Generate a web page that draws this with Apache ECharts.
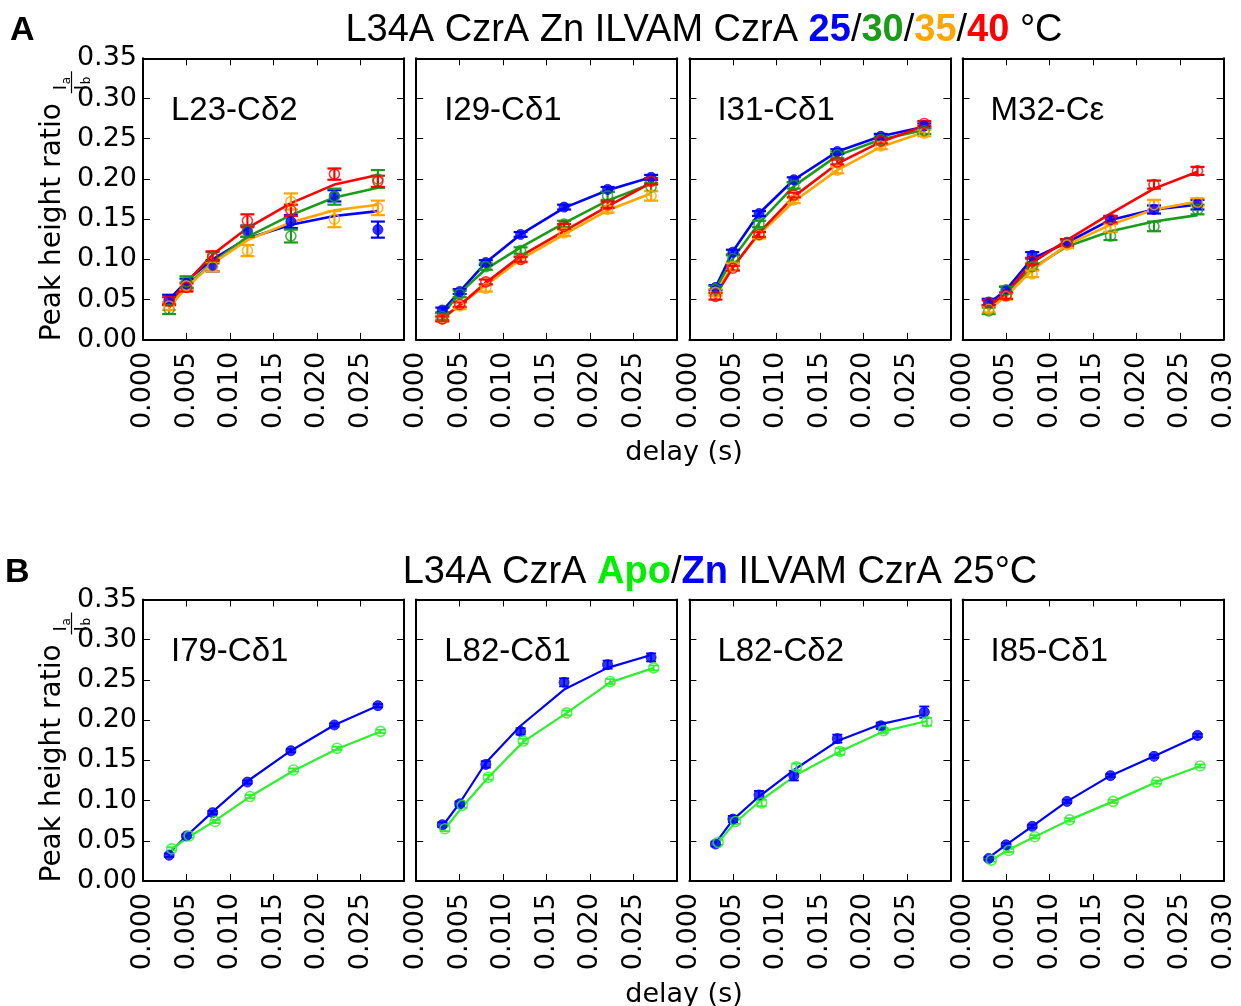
<!DOCTYPE html>
<html>
  <head>
    <meta charset="utf-8" />
    <title>CzrA peak height ratios</title>
    <script src="https://cdn.jsdelivr.net/npm/echarts@6/dist/echarts.min.js"></script>
    <style>
      body {
        margin: 0;
        padding: 0;
        background: #fff;
      }
      #chart {
        width: 1241px;
        height: 1006px;
      }
    </style>
  </head>
  <body>
    <div id="chart"></div>
    <script type="text/javascript">
      // delays (s)
      var delays = [0.003, 0.005, 0.008, 0.012, 0.017, 0.022, 0.027];
      var delaysApo = [0.0033, 0.0053, 0.0083, 0.0123, 0.0173, 0.0223, 0.0273];

      // row A: order 25 (blue), 30 (green), 35 (orange), 40 (red)
      var tempLabels = ['25', '30', '35', '40'];
      var l23Pts = [
        [0.050, 0.070, 0.092, 0.135, 0.147, 0.179, 0.137],
        [0.038, 0.072, 0.102, 0.135, 0.129, 0.178, 0.200],
        [0.042, 0.067, 0.091, 0.111, 0.172, 0.150, 0.164],
        [0.048, 0.065, 0.104, 0.148, 0.161, 0.206, 0.197]
      ];
      var l23Fit = [
        [0.050, 0.073, 0.100, 0.126, 0.143, 0.154, 0.160],
        [0.040, 0.067, 0.096, 0.128, 0.155, 0.177, 0.189],
        [0.042, 0.065, 0.095, 0.124, 0.146, 0.161, 0.168],
        [0.046, 0.071, 0.106, 0.139, 0.170, 0.193, 0.205]
      ];
      var l23Err = [
        [0.006, 0.006, 0.007, 0.007, 0.008, 0.007, 0.010],
        [0.006, 0.007, 0.007, 0.007, 0.008, 0.010, 0.011],
        [0.005, 0.005, 0.006, 0.007, 0.010, 0.010, 0.009],
        [0.005, 0.005, 0.006, 0.008, 0.007, 0.007, 0.007]
      ];
      var i29Pts = [
        [0.037, 0.060, 0.096, 0.131, 0.165, 0.187, 0.202],
        [0.029, 0.057, 0.091, 0.111, 0.144, 0.179, 0.190],
        [0.026, 0.042, 0.064, 0.100, 0.133, 0.162, 0.179],
        [0.026, 0.044, 0.072, 0.100, 0.141, 0.168, 0.197]
      ];
      var i29Fit = [
        [0.036, 0.060, 0.096, 0.131, 0.164, 0.186, 0.202],
        [0.031, 0.058, 0.088, 0.115, 0.145, 0.173, 0.194],
        [0.026, 0.043, 0.068, 0.100, 0.131, 0.161, 0.182],
        [0.027, 0.043, 0.071, 0.104, 0.135, 0.166, 0.195]
      ];
      var i29Err = [
        [0.003, 0.003, 0.003, 0.003, 0.003, 0.003, 0.003],
        [0.004, 0.004, 0.004, 0.004, 0.004, 0.005, 0.005],
        [0.003, 0.004, 0.004, 0.004, 0.004, 0.004, 0.006],
        [0.003, 0.003, 0.003, 0.003, 0.003, 0.004, 0.004]
      ];
      var i31Pts = [
        [0.065, 0.109, 0.157, 0.199, 0.234, 0.253, 0.266],
        [0.063, 0.101, 0.144, 0.192, 0.230, 0.249, 0.260],
        [0.059, 0.091, 0.130, 0.174, 0.211, 0.241, 0.257],
        [0.054, 0.089, 0.131, 0.180, 0.221, 0.247, 0.269]
      ];
      var i31Fit = [
        [0.065, 0.110, 0.157, 0.199, 0.234, 0.253, 0.265],
        [0.063, 0.101, 0.145, 0.191, 0.229, 0.249, 0.261],
        [0.058, 0.092, 0.131, 0.172, 0.211, 0.240, 0.258],
        [0.055, 0.090, 0.133, 0.178, 0.219, 0.246, 0.266]
      ];
      var i31Err = [
        [0.003, 0.003, 0.003, 0.003, 0.003, 0.003, 0.003],
        [0.004, 0.004, 0.004, 0.004, 0.004, 0.004, 0.004],
        [0.004, 0.004, 0.004, 0.004, 0.004, 0.004, 0.004],
        [0.004, 0.003, 0.003, 0.003, 0.003, 0.003, 0.003]
      ];
      var m32Pts = [
        [0.047, 0.062, 0.105, 0.121, 0.149, 0.162, 0.168],
        [0.036, 0.062, 0.091, 0.121, 0.129, 0.141, 0.162],
        [0.038, 0.054, 0.082, 0.118, 0.139, 0.168, 0.171],
        [0.046, 0.055, 0.098, 0.121, 0.150, 0.193, 0.210]
      ];
      var m32Fit = [
        [0.045, 0.062, 0.101, 0.121, 0.149, 0.162, 0.168],
        [0.037, 0.060, 0.089, 0.116, 0.135, 0.147, 0.155],
        [0.038, 0.054, 0.087, 0.118, 0.143, 0.162, 0.172],
        [0.042, 0.058, 0.096, 0.124, 0.157, 0.188, 0.209]
      ];
      var m32Err = [
        [0.004, 0.004, 0.004, 0.004, 0.005, 0.005, 0.006],
        [0.004, 0.004, 0.004, 0.004, 0.005, 0.006, 0.006],
        [0.004, 0.004, 0.004, 0.004, 0.005, 0.006, 0.005],
        [0.003, 0.004, 0.004, 0.004, 0.004, 0.005, 0.005]
      ];

      // row B: order Zn (blue), Apo (green)
      var i79Pts = [
        [0.032, 0.056, 0.085, 0.123, 0.162, 0.194, 0.218],
        [0.040, 0.056, 0.074, 0.105, 0.138, 0.165, 0.186]
      ];
      var i79Fit = [
        [0.035, 0.056, 0.086, 0.124, 0.162, 0.194, 0.218],
        [0.040, 0.055, 0.075, 0.105, 0.137, 0.164, 0.186]
      ];
      var i79Err = [
        [0.002, 0.002, 0.002, 0.002, 0.002, 0.002, 0.002],
        [0.002, 0.002, 0.002, 0.002, 0.002, 0.002, 0.002]
      ];
      var l82aPts = [
        [0.070, 0.096, 0.145, 0.186, 0.247, 0.269, 0.278],
        [0.065, 0.094, 0.129, 0.174, 0.209, 0.248, 0.265]
      ];
      var l82aFit = [
        [0.068, 0.097, 0.147, 0.193, 0.238, 0.265, 0.281],
        [0.065, 0.092, 0.129, 0.173, 0.209, 0.247, 0.265]
      ];
      var l82aErr = [
        [0.003, 0.003, 0.004, 0.004, 0.005, 0.005, 0.005],
        [0.003, 0.003, 0.003, 0.003, 0.003, 0.003, 0.003]
      ];
      var l82bPts = [
        [0.046, 0.077, 0.107, 0.131, 0.177, 0.193, 0.210],
        [0.048, 0.074, 0.097, 0.142, 0.161, 0.187, 0.198]
      ];
      var l82bFit = [
        [0.047, 0.076, 0.105, 0.138, 0.174, 0.195, 0.207],
        [0.048, 0.073, 0.101, 0.132, 0.161, 0.186, 0.199]
      ];
      var l82bErr = [
        [0.003, 0.004, 0.005, 0.006, 0.005, 0.004, 0.007],
        [0.003, 0.003, 0.004, 0.004, 0.004, 0.003, 0.005]
      ];
      var i85Pts = [
        [0.028, 0.045, 0.068, 0.099, 0.131, 0.155, 0.181],
        [0.026, 0.038, 0.055, 0.076, 0.099, 0.123, 0.143]
      ];
      var i85Fit = [
        [0.029, 0.045, 0.068, 0.099, 0.131, 0.155, 0.180],
        [0.026, 0.039, 0.055, 0.076, 0.099, 0.123, 0.143]
      ];
      var i85Err = [
        [0.002, 0.002, 0.002, 0.002, 0.002, 0.002, 0.002],
        [0.002, 0.002, 0.002, 0.002, 0.002, 0.002, 0.002]
      ];

      var colorsA = ['#0000ff', '#1a9c1a', '#ffa500', '#ff0000'];
      var colorsB = ['#0000ff', '#2ef02e'];

      var panels = [
        { name: 'L23-C\u03b42', pts: l23Pts, fit: l23Fit, err: l23Err, colors: colorsA, xs: [delays, delays, delays, delays] },
        { name: 'I29-C\u03b41', pts: i29Pts, fit: i29Fit, err: i29Err, colors: colorsA, xs: [delays, delays, delays, delays] },
        { name: 'I31-C\u03b41', pts: i31Pts, fit: i31Fit, err: i31Err, colors: colorsA, xs: [delays, delays, delays, delays] },
        { name: 'M32-C\u03b5', pts: m32Pts, fit: m32Fit, err: m32Err, colors: colorsA, xs: [delays, delays, delays, delays] },
        { name: 'I79-C\u03b41', pts: i79Pts, fit: i79Fit, err: i79Err, colors: colorsB, xs: [delays, delaysApo] },
        { name: 'L82-C\u03b41', pts: l82aPts, fit: l82aFit, err: l82aErr, colors: colorsB, xs: [delays, delaysApo] },
        { name: 'L82-C\u03b42', pts: l82bPts, fit: l82bFit, err: l82bErr, colors: colorsB, xs: [delays, delaysApo] },
        { name: 'I85-C\u03b41', pts: i85Pts, fit: i85Fit, err: i85Err, colors: colorsB, xs: [delays, delaysApo] }
      ];

      var tickFont = 'DejaVu Sans';
      var grids = [], xAxes = [], yAxes = [], series = [], graphics = [];
      var boxLine = { show: true, onZero: false, lineStyle: { color: '#000', width: 2 } };
      var inTick = { show: true, inside: true, length: 7, lineStyle: { color: '#000', width: 1 } };

      panels.forEach(function (p, i) {
        var row = Math.floor(i / 4), col = i % 4;
        var left = 143 + col * 273.2;
        var top = row === 0 ? 58.3 : 599.5;
        grids.push({ left: left, top: top, width: 261, height: 281.5 });

        xAxes.push({
          type: 'value', gridIndex: i, position: 'bottom', min: 0, max: 0.03, interval: 0.005,
          axisLine: boxLine, axisTick: inTick, splitLine: { show: false },
          axisLabel: {
            rotate: 90, margin: 12, fontSize: 27, fontFamily: tickFont, color: '#000',
            formatter: function (v) {
              if (col < 3 && v > 0.0299) return '';
              return v.toFixed(3);
            }
          }
        });
        xAxes.push({
          type: 'value', gridIndex: i, position: 'top', min: 0, max: 0.03, interval: 0.005,
          axisLine: boxLine, axisTick: inTick, splitLine: { show: false }, axisLabel: { show: false }
        });
        yAxes.push({
          type: 'value', gridIndex: i, position: 'left', min: 0, max: 0.35, interval: 0.05,
          axisLine: boxLine, axisTick: inTick, splitLine: { show: false },
          axisLabel: {
            show: col === 0, margin: 6, fontSize: 27, fontFamily: tickFont, color: '#000',
            formatter: function (v) { return v.toFixed(2); }
          }
        });
        yAxes.push({
          type: 'value', gridIndex: i, position: 'right', min: 0, max: 0.35, interval: 0.05,
          axisLine: boxLine, axisTick: inTick, splitLine: { show: false }, axisLabel: { show: false }
        });

        var xi = i * 2, yi = i * 2;
        var capHalf = row === 0 ? 7 : 5;
        var lw = row === 0 ? 2.6 : 2.2;

        p.pts.forEach(function (vals, k) {
          var c = p.colors[k];
          var xs = p.xs[k];
          var filled = k === 0;
          series.push({
            type: 'line', xAxisIndex: xi, yAxisIndex: yi, symbol: 'none', silent: true,
            lineStyle: { color: c, width: lw }, z: 2 + k * 0.01,
            data: xs.map(function (x, j) { return [x, p.fit[k][j]]; })
          });
          series.push({
            type: 'custom', xAxisIndex: xi, yAxisIndex: yi, silent: true, z: 3,
            data: xs.map(function (x, j) { return [x, vals[j], p.err[k][j]]; }),
            renderItem: function (params, api) {
              var x = api.value(0), y = api.value(1), e = api.value(2);
              var t = api.coord([x, y + e]), b = api.coord([x, y - e]);
              var st = { stroke: c, lineWidth: row === 0 ? 2.2 : 1.8 };
              return {
                type: 'group',
                children: [
                  { type: 'line', shape: { x1: t[0], y1: t[1], x2: b[0], y2: b[1] }, style: st },
                  { type: 'line', shape: { x1: t[0] - capHalf, y1: t[1], x2: t[0] + capHalf, y2: t[1] }, style: st },
                  { type: 'line', shape: { x1: b[0] - capHalf, y1: b[1], x2: b[0] + capHalf, y2: b[1] }, style: st }
                ]
              };
            }
          });
          series.push({
            type: 'scatter', xAxisIndex: xi, yAxisIndex: yi, symbol: 'circle', symbolSize: 10, z: 4,
            itemStyle: filled
              ? { color: c, borderColor: c, borderWidth: 1 }
              : { color: 'rgba(255,255,255,0)', borderColor: c, borderWidth: 1.6 },
            data: xs.map(function (x, j) { return [x, vals[j]]; })
          });
        });

        graphics.push({
          type: 'text', left: left + 28, top: top + 36, z: 10,
          style: { text: p.name, font: '33px "Liberation Sans"', fill: '#000' }
        });
      });

      // y axis titles with Ia / Ib fraction
      function fracText(txt, x, y, size, va) {
        return { type: 'text', x: x, y: y, style: { text: txt, font: size + 'px "DejaVu Sans"', fill: '#000', textAlign: 'left', textVerticalAlign: va } };
      }
      [58.3, 599.5].forEach(function (top) {
        graphics.push({
          type: 'text', x: 53, y: top + 283, rotation: Math.PI / 2, z: 10,
          style: { text: 'Peak height ratio', font: '28px "DejaVu Sans"', fill: '#000', textAlign: 'left', textVerticalAlign: 'middle' }
        });
        graphics.push({
          type: 'group', x: 71, y: top + 24, rotation: Math.PI / 2, z: 10,
          children: [
            fracText('I', -8, -1, 18, 'bottom'),
            fracText('a', -2, 2, 12, 'bottom'),
            { type: 'line', shape: { x1: -11, y1: 0.5, x2: 11, y2: 0.5 }, style: { stroke: '#000', lineWidth: 1.2 } },
            fracText('I', -8, 2, 18, 'top'),
            fracText('b', -2, 10, 12, 'top')
          ]
        });
        graphics.push({
          type: 'text', x: 684, y: top + 395, z: 10,
          style: { text: 'delay (s)', font: '27px "DejaVu Sans"', fill: '#000', textAlign: 'center', textVerticalAlign: 'middle' }
        });
      });

      var titleRich = {
        b: { fontFamily: 'Liberation Sans', fontSize: 38, fontWeight: 'bold', fill: '#0000ff' },
        g: { fontFamily: 'Liberation Sans', fontSize: 38, fontWeight: 'bold', fill: '#1a9c1a' },
        o: { fontFamily: 'Liberation Sans', fontSize: 38, fontWeight: 'bold', fill: '#ffa500' },
        r: { fontFamily: 'Liberation Sans', fontSize: 38, fontWeight: 'bold', fill: '#ff0000' },
        a: { fontFamily: 'Liberation Sans', fontSize: 38, fontWeight: 'bold', fill: '#00ee00' }
      };
      graphics.push({
        type: 'text', x: 704, y: 31, z: 10,
        style: {
          text: 'L34A CzrA Zn ILVAM CzrA {b|' + tempLabels[0] + '}/{g|' + tempLabels[1] + '}/{o|' + tempLabels[2] + '}/{r|' + tempLabels[3] + '} \u00b0C',
          rich: titleRich, font: '38px "Liberation Sans"', fill: '#000', textAlign: 'center', textVerticalAlign: 'middle'
        }
      });
      graphics.push({
        type: 'text', x: 720, y: 573, z: 10,
        style: {
          text: 'L34A CzrA {a|Apo}/{b|Zn} ILVAM CzrA 25\u00b0C',
          rich: titleRich, font: '38px "Liberation Sans"', fill: '#000', textAlign: 'center', textVerticalAlign: 'middle'
        }
      });
      graphics.push({
        type: 'text', x: 10, y: 31, z: 10,
        style: { text: 'A', font: 'bold 34px "Liberation Sans"', fill: '#000', textVerticalAlign: 'middle' }
      });
      graphics.push({
        type: 'text', x: 5, y: 573, z: 10,
        style: { text: 'B', font: 'bold 34px "Liberation Sans"', fill: '#000', textVerticalAlign: 'middle' }
      });

      var chart = echarts.init(document.getElementById('chart'), null, { renderer: 'canvas' });
      chart.setOption({
        backgroundColor: '#fff',
        animation: false,
        grid: grids,
        xAxis: xAxes,
        yAxis: yAxes,
        series: series,
        graphic: graphics
      });
    </script>
  </body>
</html>
